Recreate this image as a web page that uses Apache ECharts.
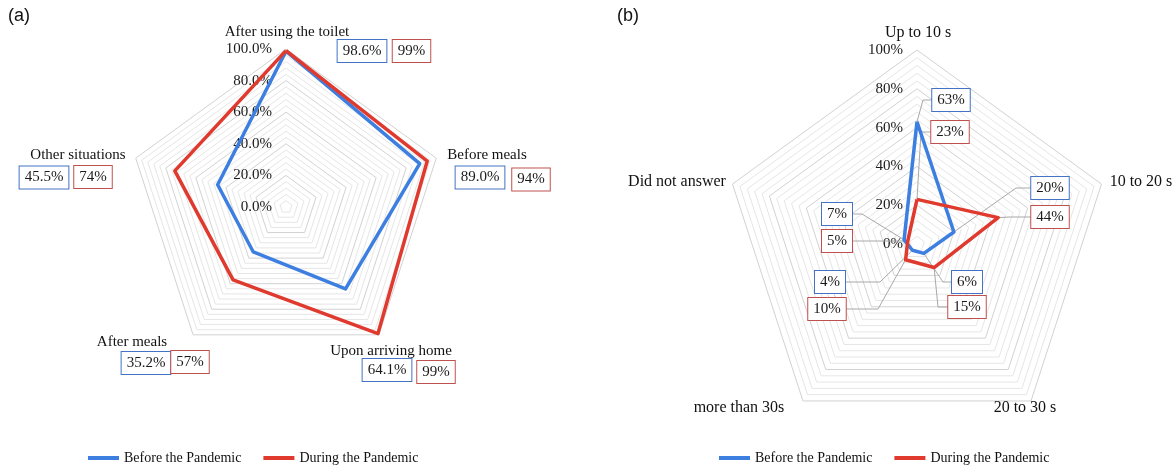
<!DOCTYPE html>
<html>
<head>
<meta charset="utf-8">
<script src="https://cdn.jsdelivr.net/npm/echarts@6/dist/echarts.min.js"></script>
<style>
  html, body { margin: 0; padding: 0; background: #fff; }
  #chart { width: 1174px; height: 467px; }
</style>
</head>
<body>
<div id="chart"></div>
<script>
// (a) Occasions of hand washing, % of respondents
const occasions = ['After using the toilet', 'Before meals', 'Upon arriving home', 'After meals', 'Other situations'];
const occasionBefore = [98.6, 89.0, 64.1, 35.2, 45.5];
const occasionDuring = [99, 94, 99, 57, 74];

// (b) Duration of hand washing, % of respondents
const durations = ['Up to 10 s', '10 to 20 s', '20 to 30 s', 'more than 30s', 'Did not answer'];
const durationBefore = [63, 20, 6, 4, 7];
const durationDuring = [23, 44, 15, 10, 5];

const seriesNames = ['Before the Pandemic', 'During the Pandemic'];
const tickValues = [0, 20, 40, 60, 80, 100];
const tickLabelsA = ['0.0%', '20.0%', '40.0%', '60.0%', '80.0%', '100.0%'];
const tickLabelsB = ['0%', '20%', '40%', '60%', '80%', '100%'];

// ---------------------------------------------------------------
const BLUE = '#3d7fe0', RED = '#e0392e';
const BOX_BLUE = '#4472c4', BOX_RED = '#c0504d';
const SERIF = '"Liberation Serif", "Times New Roman", serif';
// categories are listed clockwise from the top; radar axes run counter-clockwise
const ORDER = [0, 4, 3, 2, 1];
const GRID_COLORS = ['#d2d2d2', '#e6e6e6', '#e6e6e6', '#e6e6e6', '#e6e6e6'];

function radarConfig(center, radius, names, tickLabels) {
  return {
    center: center,
    radius: radius,
    startAngle: 90,
    shape: 'polygon',
    splitNumber: 25,
    indicator: ORDER.map(function (k, i) {
      const ind = { name: names[k], min: 0, max: 100 };
      if (i === 0) ind.axisLabel = { show: true };
      return ind;
    }),
    axisName: { show: false },
    axisLine: { show: false },
    axisTick: { show: false },
    splitArea: { show: false },
    splitLine: { lineStyle: { color: GRID_COLORS, width: 1 } },
    axisLabel: {
      show: false,
      color: '#1a1a1a',
      fontFamily: SERIF,
      fontSize: 15,
      margin: 14,
      formatter: function (v) {
        const i = tickValues.indexOf(Math.round(v));
        return i >= 0 && Math.abs(v - tickValues[i]) < 1e-6 ? tickLabels[i] : '';
      }
    }
  };
}

function radarSeries(radarIndex, before, during) {
  return {
    type: 'radar',
    radarIndex: radarIndex,
    symbol: 'none',
    z: 3,
    data: [
      { name: seriesNames[0], value: ORDER.map(k => before[k]),
        lineStyle: { color: BLUE, width: 3.5 }, itemStyle: { color: BLUE } },
      { name: seriesNames[1], value: ORDER.map(k => during[k]),
        lineStyle: { color: RED, width: 3.5 }, itemStyle: { color: RED } }
    ]
  };
}

function legendConfig(left) {
  return {
    data: seriesNames,
    left: left,
    top: 451,
    padding: 0,
    icon: 'rect',
    itemWidth: 31,
    itemHeight: 4,
    itemGap: 22,
    selectedMode: false,
    textStyle: { fontFamily: SERIF, fontSize: 14, color: '#111' }
  };
}

const chart = echarts.init(document.getElementById('chart'), null, { renderer: 'canvas' });
chart.setOption({
  animation: false,
  backgroundColor: '#fff',
  radar: [
    radarConfig([286, 207], 158, occasions, tickLabelsA),
    radarConfig([917, 244], 194, durations, tickLabelsB)
  ],
  legend: [legendConfig(88), legendConfig(719)],
  series: [
    radarSeries(0, occasionBefore, occasionDuring),
    radarSeries(1, durationBefore, durationDuring)
  ]
});

// ---- category names, value boxes and leader lines -----------------
const namePosA = [[287, 32], [487, 155], [391, 351], [132, 342], [78, 155]];
const namePosB = [[918, 33], [1141, 182], [1025, 408], [739, 408], [677, 182]];

const boxPosA = {
  before: [[362, 51], [480, 177.5], [387, 370], [146, 363], [44, 177.5]],
  during: [[411.5, 51], [531, 179.5], [436, 372], [190, 362], [93, 177]]
};
// box centre and the bend of its leader line
const boxPosB = {
  before: [[951, 100], [1050, 188], [967, 282], [830, 282], [837, 214]],
  during: [[950, 132], [1050, 217], [967, 307], [827, 309], [837, 241]]
};
const bendB = {
  before: [[923, 100], [1016, 188], [943, 282], [880, 282], [862, 214]],
  during: [[921, 132], [1010, 217], [938, 307], [878, 309], [880, 241]]
};

function nameText(label, pos, size) {
  return {
    type: 'text', x: pos[0], y: pos[1], z: 20, silent: true,
    style: { text: label, font: size + 'px ' + SERIF, fill: '#111', align: 'center', verticalAlign: 'middle' }
  };
}
function boxText(label, pos, border) {
  return {
    type: 'text', x: pos[0], y: pos[1], z: 30, silent: true,
    style: {
      text: label, font: '15px ' + SERIF, fill: '#1a1a1a', align: 'center', verticalAlign: 'middle',
      backgroundColor: '#fff', borderColor: border, borderWidth: 1, padding: [4, 5, 3, 5]
    }
  };
}

const radarB = chart.getModel().getComponent('radar', 1).coordinateSystem;
const graphics = [
  { type: 'text', x: 8, y: 16, z: 20, silent: true,
    style: { text: '(a)', font: '18px "Liberation Sans", Arial, sans-serif', fill: '#111', verticalAlign: 'middle' } },
  { type: 'text', x: 617, y: 16, z: 20, silent: true,
    style: { text: '(b)', font: '18px "Liberation Sans", Arial, sans-serif', fill: '#111', verticalAlign: 'middle' } }
];

occasions.forEach(function (name, k) {
  graphics.push(nameText(name, namePosA[k], 15));
  graphics.push(boxText(occasionBefore[k].toFixed(1) + '%', boxPosA.before[k], BOX_BLUE));
  graphics.push(boxText(occasionDuring[k] + '%', boxPosA.during[k], BOX_RED));
});

durations.forEach(function (name, k) {
  graphics.push(nameText(name, namePosB[k], 16));
  [['before', durationBefore, BOX_BLUE], ['during', durationDuring, BOX_RED]].forEach(function (s) {
    const key = s[0], vals = s[1], border = s[2];
    const vertex = radarB.dataToPoint(vals[k], ORDER.indexOf(k));
    const box = boxPosB[key][k], bend = bendB[key][k];
    graphics.push({
      type: 'polyline', z: 1, silent: true,
      shape: { points: [vertex, bend, box] },
      style: { stroke: '#a8a8a8', lineWidth: 1, fill: null }
    });
    graphics.push(boxText(vals[k] + '%', box, border));
  });
});

chart.setOption({ graphic: graphics });
</script>
</body>
</html>
